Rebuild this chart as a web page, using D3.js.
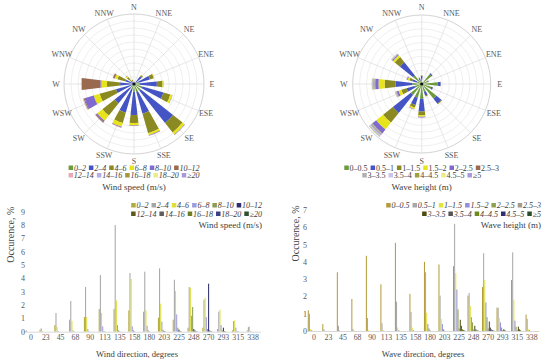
<!DOCTYPE html>
<html>
<head>
<meta charset="utf-8">
<script src="https://cdn.jsdelivr.net/npm/d3@7/dist/d3.min.js"></script>
<style>
  body { margin: 0; background: #fff; }
  svg { display: block; font-family: "Liberation Serif", "DejaVu Serif", serif; }
</style>
</head>
<body>
<svg id="chart" width="550" height="363"></svg>
<script>
// directions (degrees) used by both roses and bar charts
var dirs = ["0","23","45","68","90","113","135","158","180","203","225","248","270","293","315","338"];
var compass = ["N","NNE","NE","ENE","E","ESE","SE","SSE","S","SSW","SW","WSW","W","WNW","NW","NNW"];

var windClasses = ["0\u20132","2\u20134","4\u20136","6\u20138","8\u201310","10\u201312","12\u201314","14\u201316","16\u201318","18\u201320","\u226520"];
var waveClasses = ["0\u20130.5","0.5\u20131","1\u20131.5","1.5\u20132","2\u20132.5","2.5\u20133","3\u20133.5","3.5\u20134","4\u20134.5","4.5\u20135","\u22655"];

// occurrence, % (one row per direction, one value per class)
var windData = [
  [0.05,0.1,0.02,0,0,0,0,0,0,0,0],
  [0.15,0.25,0.05,0,0,0,0,0,0,0,0],
  [0.5,1.4,0.35,0.05,0,0,0,0,0,0,0],
  [0.9,2.3,0.8,0.1,0.02,0,0,0,0,0,0],
  [1.1,3.35,1.1,0.2,0.03,0,0,0,0,0,0],
  [1.7,4.25,1.4,0.4,0.05,0.01,0,0,0,0,0],
  [1.7,8.0,2.35,0.5,0.1,0.02,0,0,0,0,0],
  [1.6,4.4,3.95,0.4,0.1,0.02,0,0,0,0,0],
  [1.5,4.5,1.6,0.45,0.1,0.02,0,0,0,0,0],
  [1.05,4.75,2.1,0.75,0.15,0.05,0.02,0,0,0,0],
  [0.9,3.9,3.05,1.3,0.3,0.15,0.05,0.02,0,0,0],
  [0.3,3.35,3.3,1.2,1.85,0.2,0.1,0.05,0.02,0,0],
  [0.3,2.4,2.55,1.1,0.2,3.6,0.1,0.05,0.02,0,0],
  [0.2,1.5,1.65,0.5,0.1,0.3,0.05,0.02,0,0,0],
  [0.1,0.8,0.85,0.3,0.05,0.02,0,0,0,0,0],
  [0.1,0.35,0.4,0.05,0,0,0,0,0,0,0]
];
var waveData = [
  [1.2,1.0,0.1,0.05,0,0,0,0,0,0,0],
  [0.4,0.1,0.02,0,0,0,0,0,0,0,0],
  [3.4,0.3,0.05,0,0,0,0,0,0,0,0],
  [1.85,0.12,0.02,0,0,0,0,0,0,0,0],
  [4.35,0.75,0.05,0,0,0,0,0,0,0,0],
  [2.7,0.45,0.05,0,0,0,0,0,0,0,0],
  [5.1,1.7,0.2,0.05,0,0,0,0,0,0,0],
  [2.15,1.1,0.2,0.05,0,0,0,0,0,0,0],
  [4.0,3.4,1.05,0.4,0.15,0.05,0,0,0,0,0],
  [3.85,2.05,0.7,0.4,0.1,0.03,0,0,0,0,0],
  [3.75,6.2,3.35,2.4,1.25,0.15,0.65,0.3,0.1,0.05,0.02],
  [2.05,2.2,1.45,0.8,0.5,0.1,0.3,0.1,0.05,0.02,0],
  [2.55,4.5,2.95,1.65,0.8,0.15,0.55,0.2,0.1,0.05,0.02],
  [1.35,1.35,0.75,0.5,0.2,0.05,0.1,0.05,0,0,0],
  [2.95,4.55,1.8,0.6,0.25,0.05,0.25,0.1,0.05,0,0],
  [0.95,0.7,0.1,0.05,0,0,0,0,0,0,0]
];

var windRoseColors = ["#6b9b3a","#4454c4","#8b8a22","#e8e41c","#7f6ad0","#9a6a50","#e8a8b8","#b4aee8","#a8963c","#ecec84","#aa98dc"];
var waveRoseColors = ["#6b9b3a","#4454c4","#8b8a22","#e8e41c","#7f6ad0","#9a6a50","#b0b0b0","#c8c4f0","#a0a040","#ecec84","#aa98dc"];
var windBarColors = ["#b3aa3e","#a6a6a6","#dede3a","#9d9de0","#8c9c55","#2e2e6e","#5c5a1a","#5e5e5e","#6d7f24","#3a4088","#2f4f2f"];
var waveBarColors = ["#b39c3c","#a8a8a8","#e3e33a","#9090dd","#8ea050","#a89a86","#4e4a10","#555555","#6f8a1c","#2e2e70","#2c4a2c"];

var svg = d3.select("#chart");

function legend(g, classes, colors, x, y, align, italic) {
  // one row of swatches + labels
  var items = [];
  var cx = 0;
  classes.forEach(function(c, i) {
    var it = g.append("g");
    it.append("rect").attr("x", 0).attr("y", -2.5).attr("width", 4.5).attr("height", 4.5).attr("fill", colors[i]);
    var t = it.append("text").attr("x", 5.3).attr("y", 0).attr("dy", "0.35em")
      .style("font-size", "8px").style("fill", "#404040")
      .style("font-style", italic ? "italic" : "normal").text(c);
    var w = 5.3 + t.node().getComputedTextLength();
    items.push({g: it, x: cx});
    cx += w + 3;
  });
  var total = cx - 3;
  var x0 = align === "middle" ? x - total / 2 : x - total;
  items.forEach(function(d) { d.g.attr("transform", "translate(" + (x0 + d.x) + "," + y + ")"); });
}

function drawRose(cx, cy, R, maxVal, data, colors, classes, title, italic) {
  var g = svg.append("g").attr("transform", "translate(" + cx + "," + cy + ")");
  var r = d3.scaleLinear().domain([0, maxVal]).range([0, R]);

  // grid rings
  d3.range(1, 10).forEach(function(i) {
    g.append("circle").attr("r", R * i / 10).attr("fill", "none").attr("stroke", "#e4e4e4").attr("stroke-width", 0.6);
  });
  g.append("circle").attr("r", R).attr("fill", "none").attr("stroke", "#c8c8c8").attr("stroke-width", 0.8);

  // spokes
  dirs.forEach(function(d, i) {
    var a = i * 22.5 * Math.PI / 180;
    g.append("line").attr("x1", 0).attr("y1", 0)
      .attr("x2", R * Math.sin(a)).attr("y2", -R * Math.cos(a))
      .attr("stroke", "#d6d6d6").attr("stroke-width", 0.6);
  });

  // stacked wedges
  var arc = d3.arc();
  data.forEach(function(row, i) {
    var a = i * 22.5 * Math.PI / 180;
    var half = 6.5 * Math.PI / 180;
    var cum = 0;
    row.forEach(function(v, k) {
      if (v <= 0) return;
      g.append("path")
        .attr("d", arc({innerRadius: r(cum), outerRadius: r(cum + v), startAngle: a - half, endAngle: a + half}))
        .attr("fill", colors[k]);
      cum += v;
    });
  });
  g.append("circle").attr("r", 1.6).attr("fill", "#111");

  // compass labels
  compass.forEach(function(c, i) {
    var a = i * 22.5 * Math.PI / 180;
    g.append("text")
      .attr("x", 78 * Math.sin(a)).attr("y", -77 * Math.cos(a))
      .attr("text-anchor", "middle").attr("dy", "0.35em")
      .style("font-size", "8px").style("fill", "#595959").text(c);
  });

  legend(svg.append("g"), classes.slice(0, 6), colors.slice(0, 6), cx, 168, "middle", italic);
  legend(svg.append("g"), classes.slice(6), colors.slice(6), cx, 175.5, "middle", italic);

  svg.append("text").attr("x", cx).attr("y", 186.5).attr("text-anchor", "middle").attr("dy", "0.35em")
    .style("font-size", "9px").style("fill", "#404040").text(title);
}

function drawBars(x0r, yMax, yr, axisX, data, colors, classes, legendX, legendTitle, xTitle, xTitleX, yTitleX) {
  var x0 = d3.scaleBand().domain(dirs).range(x0r).paddingInner(0.15).paddingOuter(0.075);
  var x1 = d3.scaleBand().domain(d3.range(classes.length)).range([0, x0.bandwidth()]).paddingInner(0.1);
  var y = d3.scaleLinear().domain([0, yMax]).range(yr);

  var g = svg.append("g");

  // bars
  data.forEach(function(row, i) {
    row.forEach(function(v, k) {
      if (v <= 0) return;
      g.append("rect")
        .attr("x", x0(dirs[i]) + x1(k))
        .attr("y", y(v))
        .attr("width", x1.bandwidth())
        .attr("height", y(0) - y(v))
        .attr("fill", colors[k]);
    });
  });

  // X axis
  var xa = g.append("g").attr("transform", "translate(0," + y(0) + ")")
    .call(d3.axisBottom(x0).tickSize(0).tickPadding(3));
  xa.select(".domain").attr("stroke", "#d9d9d9");
  xa.selectAll("text").style("font-size", "7.8px").style("fill", "#595959").style("font-family", "Liberation Serif");

  // Y axis
  var ya = g.append("g").attr("transform", "translate(" + axisX + ",0)")
    .call(d3.axisLeft(y).ticks(yMax).tickSize(0).tickPadding(2));
  ya.select(".domain").remove();
  ya.selectAll("text").style("font-size", "8px").style("fill", "#595959").style("font-family", "Liberation Serif");

  // titles
  svg.append("text").attr("x", xTitleX).attr("y", 354).attr("text-anchor", "middle").attr("dy", "0.35em")
    .style("font-size", "8.6px").style("fill", "#404040").text(xTitle);
  svg.append("text").attr("transform", "translate(" + yTitleX + "," + ((yr[0] + yr[1]) / 2 - 37) + ") rotate(-90)")
    .attr("text-anchor", "middle").attr("dy", "0.35em")
    .style("font-size", "10px").style("fill", "#404040").text("Occurence, %");

  // legend
  legend(svg.append("g"), classes.slice(0, 6), colors.slice(0, 6), legendX, 205.5, "end", true);
  legend(svg.append("g"), classes.slice(6), colors.slice(6), legendX, 214, "end", true);
  svg.append("text").attr("x", legendX).attr("y", 224.5).attr("text-anchor", "end").attr("dy", "0.35em")
    .style("font-size", "9px").style("fill", "#404040").text(legendTitle);
}

drawRose(134, 84, 70, 13.6, windData, windRoseColors, windClasses, "Wind speed (m/s)", true);
drawRose(421.7, 84, 69, 18.6, waveData, waveRoseColors, waveClasses, "Wave height (m)", false);

drawBars([23.6, 260.4], 9, [331.7, 211.7], 27, windData, windBarColors, windClasses, 262, "Wind speed (m/s)", "Wind direction, degrees", 137, 10);
drawBars([306.7, 539], 7, [331, 210], 309, waveData, waveBarColors, waveClasses, 541, "Wave height (m)", "Wave direction, degrees", 423, 295);
</script>
</body>
</html>
